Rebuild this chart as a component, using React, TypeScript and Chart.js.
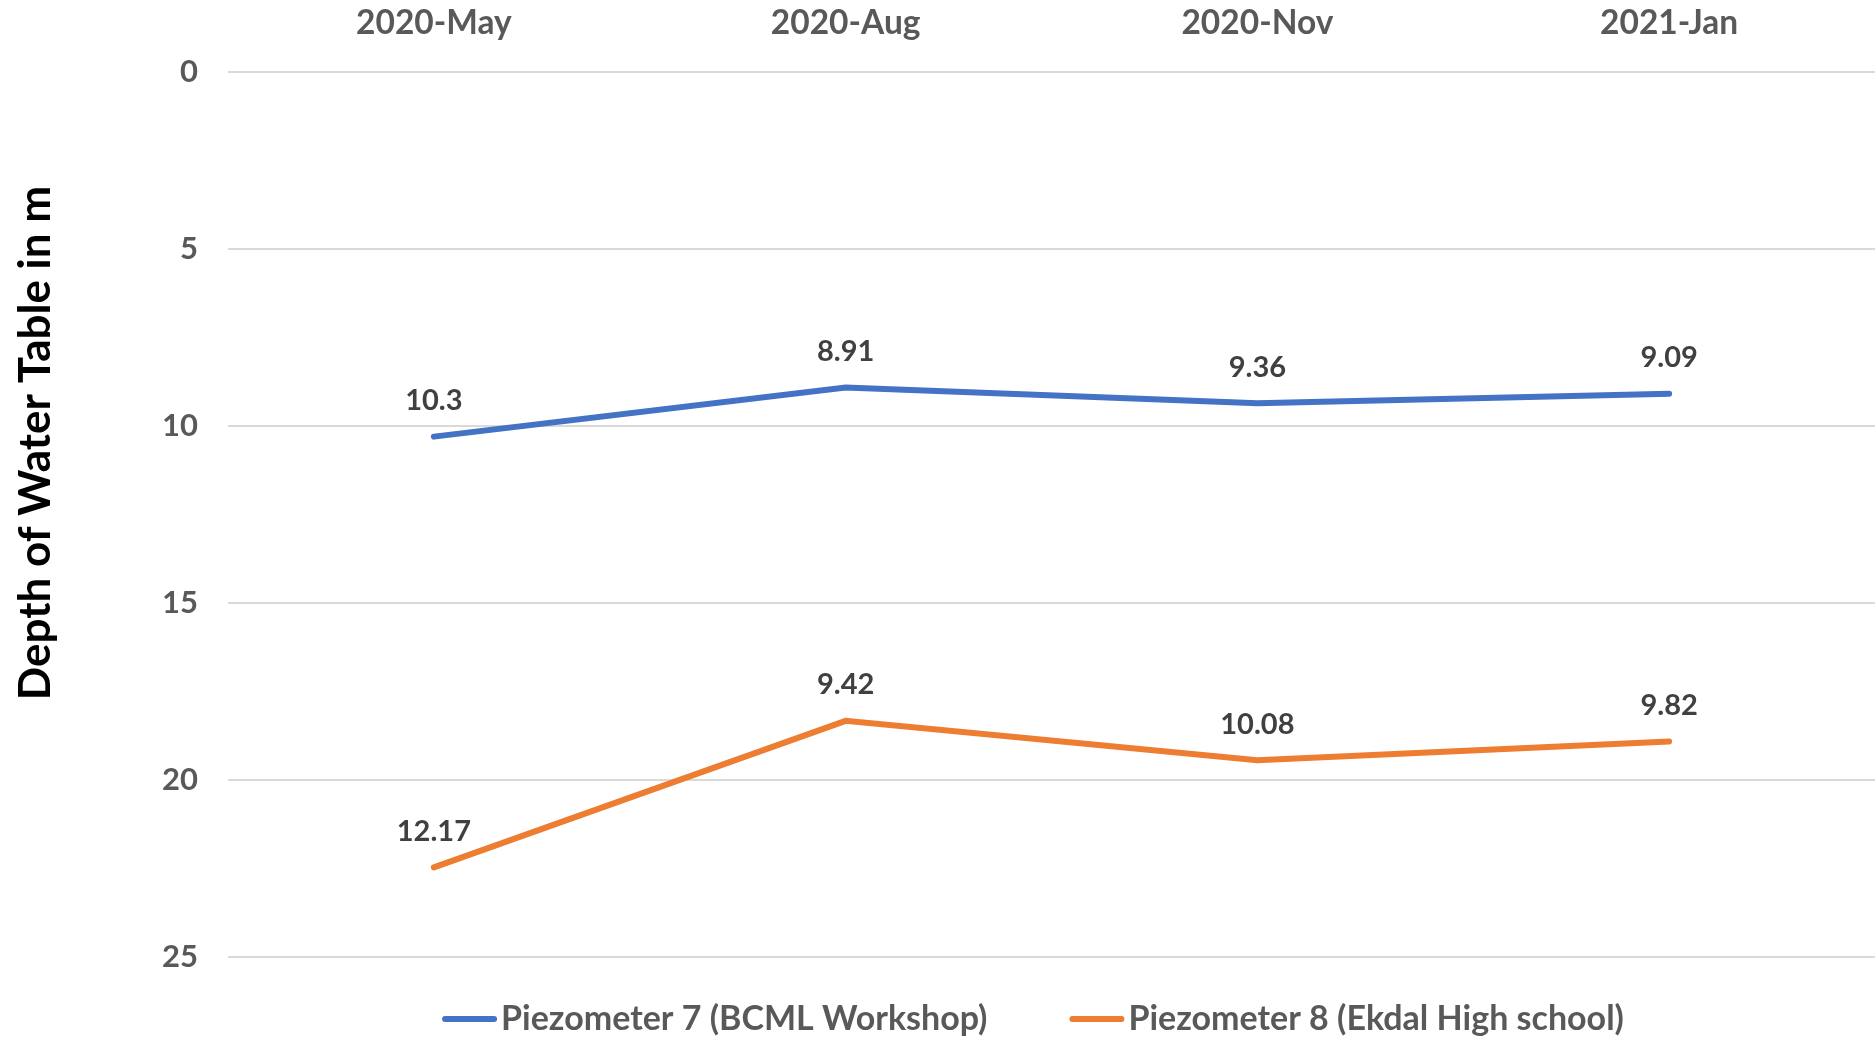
import React, { useEffect, useRef } from "react";
import { Chart, registerables } from "chart.js";

Chart.register(...registerables);

const categories = ["2020-May", "2020-Aug", "2020-Nov", "2021-Jan"];
const piezometer7 = [10.3, 8.91, 9.36, 9.09];
const piezometer8 = [12.17, 9.42, 10.08, 9.82];
const seriesNames = ["Piezometer 7 (BCML Workshop)", "Piezometer 8 (Ekdal High school)"];
const seriesColors = ["#4472C4", "#ED7D31"];
const yTitle = "Depth of Water Table in m";

const FONT = "Lato, 'Open Sans', sans-serif";

const dataLabelPlugin = {
  id: "dataLabels",
  afterDatasetsDraw(chart: any) {
    const ctx = chart.ctx;
    ctx.save();
    ctx.font = `bold 29px ${FONT}`;
    ctx.fillStyle = "#404040";
    ctx.textAlign = "center";
    ctx.textBaseline = "middle";
    chart.data.datasets.forEach((ds: any, i: number) => {
      const meta = chart.getDatasetMeta(i);
      meta.data.forEach((pt: any, j: number) => {
        ctx.fillText(String(ds.data[j]), pt.x, pt.y - 36);
      });
    });
    ctx.restore();
  },
};

const titleLegendPlugin = {
  id: "titleLegend",
  afterDraw(chart: any) {
    const ctx = chart.ctx;
    ctx.save();
    // y-axis title
    ctx.font = `bold 44px ${FONT}`;
    ctx.fillStyle = "#000000";
    ctx.textAlign = "center";
    ctx.textBaseline = "middle";
    ctx.translate(36, 443);
    ctx.rotate(-Math.PI / 2);
    ctx.fillText(yTitle, 0, 0);
    ctx.restore();

    // legend
    ctx.save();
    ctx.font = `bold 34px ${FONT}`;
    ctx.textBaseline = "middle";
    ctx.textAlign = "left";
    const lineLen = 55;
    const textGap = 4;
    const itemGap = 82;
    const widths = seriesNames.map((n) => ctx.measureText(n).width);
    const total = widths.reduce((a, w) => a + lineLen + textGap + w, 0) + itemGap * (seriesNames.length - 1);
    let x = 1033 - total / 2;
    const y = 1019;
    seriesNames.forEach((n, i) => {
      ctx.strokeStyle = seriesColors[i];
      ctx.lineWidth = 6;
      ctx.lineCap = "round";
      ctx.beginPath();
      ctx.moveTo(x + 3, y);
      ctx.lineTo(x + lineLen - 3, y);
      ctx.stroke();
      ctx.fillStyle = "#595959";
      ctx.fillText(n, x + lineLen + textGap, y);
      x += lineLen + textGap + widths[i] + itemGap;
    });
    ctx.restore();
  },
};

export default function App() {
  const ref = useRef<HTMLCanvasElement>(null);
  useEffect(() => {
    document.body.style.margin = "0";
    const chart = new Chart(ref.current!, {
      type: "line",
      data: {
        labels: categories,
        datasets: [
          {
            label: seriesNames[0],
            data: piezometer7,
            borderColor: seriesColors[0],
            backgroundColor: seriesColors[0],
            borderWidth: 6,
            borderCapStyle: "round",
            pointRadius: 0,
            fill: false,
            tension: 0,
          },
          {
            label: seriesNames[1],
            data: piezometer8,
            borderColor: seriesColors[1],
            backgroundColor: seriesColors[1],
            borderWidth: 6,
            borderCapStyle: "round",
            pointRadius: 0,
            fill: false,
            tension: 0,
          },
        ],
      },
      options: {
        animation: false,
        responsive: false,
        maintainAspectRatio: false,
        layout: { padding: { left: 0, right: 0, top: 0, bottom: 81 } },
        plugins: {
          legend: { display: false },
          tooltip: { enabled: false },
        },
        scales: {
          x: {
            position: "top",
            offset: true,
            grid: { display: false, drawTicks: false },
            border: { display: false },
            ticks: {
              color: "#595959",
              font: { family: FONT, size: 33.5, weight: "bold" },
              padding: 29,
              maxRotation: 0,
            },
            afterFit: (s: any) => {
              s.height = 72;
            },
          },
          y: {
            stacked: true,
            reverse: true,
            min: 0,
            max: 25,
            ticks: {
              stepSize: 5,
              color: "#595959",
              font: { family: FONT, size: 31, weight: "bold" },
              padding: 30,
            },
            grid: { color: "#D9D9D9", lineWidth: 2, drawTicks: false },
            border: { display: false },
            afterFit: (s: any) => {
              s.width = 228;
            },
          },
        },
      },
      plugins: [dataLabelPlugin, titleLegendPlugin],
    });
    return () => chart.destroy();
  }, []);
  return (
    <div style={{ position: "absolute", left: 0, top: 0, width: 1875, height: 1038 }}>
      <canvas ref={ref} width={1875} height={1038} style={{ width: 1875, height: 1038, display: "block" }} />
    </div>
  );
}
